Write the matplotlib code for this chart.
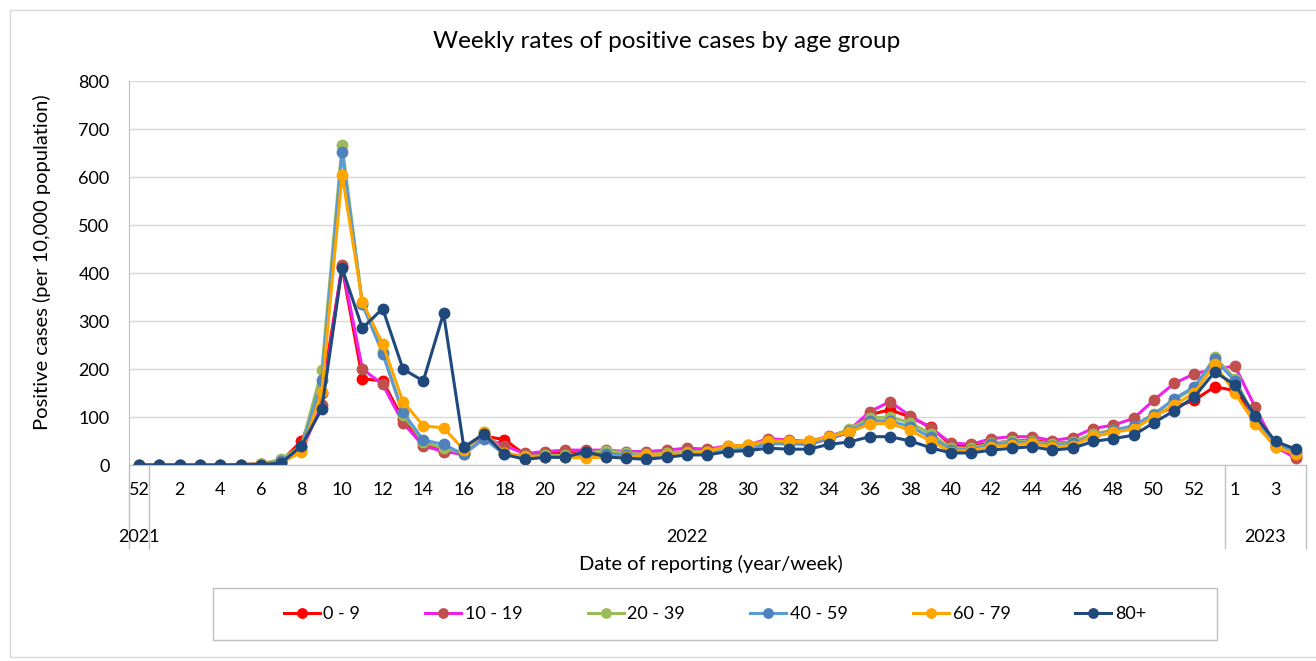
import matplotlib
matplotlib.use("Agg")
import matplotlib.pyplot as plt
from matplotlib.patches import Rectangle
from matplotlib.lines import Line2D
import matplotlib.transforms as mtransforms

plt.rcParams['font.family'] = ['Lato', 'DejaVu Sans']

# categories: 2021 week 52, 2022 weeks 1-53, 2023 weeks 1-4
weeks = [52] + list(range(1, 54)) + list(range(1, 5))
years = ['2021', '2022', '2023']

age_0_9 = [0, 0, 0, 0.5, 0.5, 1, 2, 8,
           50, 150, 412, 180, 175, 95, 45, 30, 24, 60,
           53, 22, 24, 25, 26, 25, 22, 22, 24, 28,
           28, 33, 35, 45, 45, 43, 55, 68, 105, 115,
           100, 79, 42, 40, 45, 50, 52, 45, 48, 60,
           68, 78, 105, 120, 135, 163,
           155, 100, 40, 18]
age_10_19 = [0, 0, 0, 0.5, 0.5, 1, 2, 6,
             30, 125, 417, 200, 168, 88, 40, 28, 22, 58,
             40, 24, 28, 31, 31, 31, 28, 28, 31, 35,
             33, 40, 41, 55, 52, 49, 60, 73, 111, 132,
             102, 77, 46, 43, 55, 59, 59, 51, 57, 76,
             83, 97, 135, 170, 190, 200,
             206, 120, 38, 14]
age_20_39 = [0, 0, 0, 0.5, 1, 1, 2, 12,
             40, 197, 667, 335, 235, 105, 48, 35, 25, 68,
             25, 18, 20, 20, 25, 30, 25, 22, 25, 28,
             28, 33, 38, 47, 47, 47, 58, 75, 98, 100,
             88, 65, 35, 35, 45, 50, 50, 43, 48, 65,
             73, 80, 107, 135, 160, 225,
             180, 95, 45, 28]
age_40_59 = [0, 0, 0, 0.5, 0.5, 1, 2, 8,
             35, 177, 652, 335, 232, 110, 52, 43, 22, 55,
             22, 14, 16, 17, 20, 22, 20, 18, 20, 24,
             24, 30, 33, 44, 44, 44, 55, 70, 92, 92,
             80, 58, 32, 32, 43, 46, 48, 40, 45, 60,
             72, 82, 105, 138, 163, 220,
             175, 95, 45, 25]
age_60_79 = [0, 0, 0, 0.5, 0.5, 1, 2, 5,
             27, 152, 605, 340, 252, 132, 82, 77, 32, 68,
             25, 16, 16, 16, 15, 16, 16, 21, 21, 24,
             28, 40, 41, 51, 49, 49, 59, 69, 85, 87,
             72, 50, 28, 30, 38, 42, 45, 38, 40, 60,
             68, 75, 100, 125, 150, 210,
             150, 85, 38, 22]
age_80 = [0, 0, 0, 0, 0, 0.5, 1, 4,
          40, 117, 410, 285, 326, 200, 175, 316, 37, 65,
          22, 12, 16, 16, 28, 17, 14, 12, 16, 21,
          21, 28, 30, 35, 33, 33, 43, 48, 59, 59,
          50, 36, 25, 25, 31, 35, 38, 31, 35, 49,
          55, 62, 88, 113, 142, 194,
          167, 102, 49, 33]

series = [
    ('0 - 9', age_0_9, '#FF0000', '#FF0000'),
    ('10 - 19', age_10_19, '#EE22EE', '#C0504D'),
    ('20 - 39', age_20_39, '#9BBB59', '#9BBB59'),
    ('40 - 59', age_40_59, '#5B9BD5', '#4F81BD'),
    ('60 - 79', age_60_79, '#FFA500', '#FFA500'),
    ('80+', age_80, '#1F497D', '#1F497D'),
]

W, H = 1316, 661
fig = plt.figure(figsize=(W / 100, H / 100), dpi=100)
ax = fig.add_axes([129 / W, 1 - 465 / H, (1306 - 129) / W, (465 - 81) / H])

x = list(range(len(weeks)))
for name, vals, lc, mc in series:
    ax.plot(x, vals, color=lc, lw=2.2, marker='o', ms=7.5,
            mfc=mc, mec=mc, label=name)

ax.set_xlim(-0.5, len(weeks) - 0.5)
ax.set_ylim(0, 800)
ax.set_yticks(range(0, 801, 100))
ax.grid(axis='y', color='#D9D9D9', lw=1)
ax.set_axisbelow(True)
ax.set_xticks(x[::2])
ax.set_xticklabels([str(w) for w in weeks[::2]])
ax.tick_params(axis='x', length=0, pad=12, labelsize=13)
ax.tick_params(axis='y', length=0, pad=14, labelsize=13)
for s in ['top', 'right']:
    ax.spines[s].set_visible(False)
ax.spines['left'].set_color('#BFBFBF')
ax.spines['bottom'].set_color('#BFBFBF')

# year dividers and year labels under the week labels
trans = mtransforms.blended_transform_factory(ax.transData, ax.transAxes)
for xd in [-0.5, 0.5, 53.5, len(weeks) - 0.5]:
    ax.add_line(Line2D([xd, xd], [0, -0.216], transform=trans,
                       color='#BFBFBF', lw=1, clip_on=False))
for xc, yr in zip([0, 27, 55.5], years):
    ax.text(xc, -0.1875, yr, transform=trans, ha='center', va='center',
            fontsize=13)

fig.text(711 / W, 1 - 564 / H, 'Date of reporting (year/week)',
         ha='center', va='center', fontsize=14.5)
fig.text(42 / W, 1 - 262 / H, 'Positive cases (per 10,000 population)',
         ha='center', va='center', rotation=90, fontsize=14.5)
fig.text(667 / W, 1 - 42 / H, 'Weekly rates of positive cases by age group',
         ha='center', va='center', fontsize=17.5)

# outer chart border and legend box
fig.add_artist(Rectangle((10 / W, 4 / H), 1.2, 1 - 14 / H,
                         transform=fig.transFigure, fill=False,
                         ec='#D9D9D9', lw=1))
fig.add_artist(Rectangle((213 / W, 1 - 640 / H), (1217 - 213) / W,
                         (640 - 588) / H, transform=fig.transFigure,
                         fill=False, ec='#BFBFBF', lw=1))
handles, labels = ax.get_legend_handles_labels()
fig.legend(handles, labels, loc='center', ncol=6,
           bbox_to_anchor=(715 / W, 1 - 614 / H), frameon=False,
           fontsize=13, handlelength=2.0, handletextpad=0.2,
           columnspacing=3.6, markerscale=0.9)

fig.savefig('out.png', dpi=100)
